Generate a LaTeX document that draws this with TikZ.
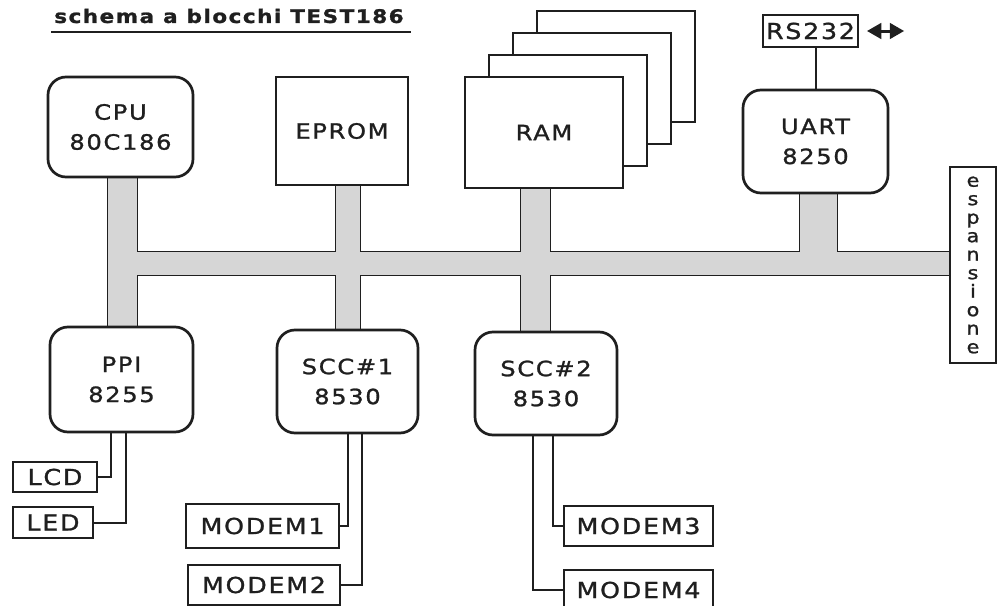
\documentclass[tikz,border=0pt]{standalone}
\usepackage{fontspec}
\usepackage{xcolor}
\usetikzlibrary{shapes,arrows}
\usetikzlibrary{positioning}
\newfontfamily\boxfont[FakeStretch=1.15,LetterSpace=8,FakeBold=1.2]{DejaVu Sans}
\definecolor{ink}{gray}{0.12}
\tikzstyle{chip} = [rectangle, draw=ink, line width=2.7pt, fill=white,
    rounded corners=18pt, align=center, text=ink, inner sep=0pt,
    font=\boxfont\fontsize{21}{30}\selectfont]
\tikzstyle{mem} = [rectangle, draw=ink, line width=2.7pt, fill=white,
    text=ink, inner sep=0pt, font=\boxfont\fontsize{21}{30}\selectfont]
\tikzstyle{port} = [rectangle, draw=ink, line width=2.2pt, fill=white,
    text=ink, inner sep=0pt, font=\boxfont\fontsize{22}{22}\selectfont]
\tikzstyle{wire} = [draw=ink, line width=2pt]
\tikzstyle{bus} = [draw=ink, line width=1pt, fill=black!16]

\begin{document}
\begin{tikzpicture}[x=1pt, y=-1pt]
  \useasboundingbox (0,0) rectangle (998,605);

  % Bus
  \path [bus] (107,170) -- (137,170) -- (137,251) -- (335,251) -- (335,178)
    -- (360,178) -- (360,251) -- (520,251) -- (520,180) -- (550,180)
    -- (550,251) -- (799,251) -- (799,185) -- (837,185) -- (837,251)
    -- (951,251) -- (951,275) -- (550,275) -- (550,340) -- (520,340)
    -- (520,275) -- (360,275) -- (360,338) -- (335,338) -- (335,275)
    -- (137,275) -- (137,335) -- (107,335) -- cycle;

  % Title
  \node [text=ink, inner sep=0pt, font=\boxfont\bfseries\fontsize{18.7}{22}\selectfont]
    (title) at (229,16) {schema a blocchi TEST186};
  \draw [wire] ([shift={(-3pt,-9pt)}]title.south west) -- ([shift={(7pt,-9pt)}]title.south east);

  % Place nodes
  \node [chip, minimum width=145pt, minimum height=100pt] (cpu) at (120.5,127) {CPU\\80C186};
  \node [mem, minimum width=132pt, minimum height=108pt] (eprom) at (342,131) {EPROM};
  \foreach \k in {3,2,1}
    \node [mem, minimum width=158pt, minimum height=111pt] (ram\k) at (544+24*\k,132.5-22*\k) {};
  \node [mem, minimum width=158pt, minimum height=111pt] (ram) at (544,132.5) {RAM};
  \node [chip, minimum width=145pt, minimum height=103pt] (uart) at (815.5,141.5) {UART\\8250};
  \node [port, minimum width=95pt, minimum height=32pt] (rs) at (810.5,31) {RS232};
  \coordinate (ext) at (904,31);
  \node [port, minimum width=46pt, minimum height=196pt, align=center,
    font=\boxfont\fontsize{18}{18.5}\selectfont] (exp) at (973,265) {e\\s\\p\\a\\n\\s\\i\\o\\n\\e};

  \node [chip, minimum width=143pt, minimum height=105pt] (ppi) at (121.5,379.5) {PPI\\8255};
  \node [chip, minimum width=141pt, minimum height=103pt] (scc1) at (347.5,381.5) {SCC\#1\\8530};
  \node [chip, minimum width=142pt, minimum height=103pt] (scc2) at (546,383.5) {SCC\#2\\8530};

  \node [port, minimum width=84pt, minimum height=30pt] (lcd) at (55,477) {LCD};
  \node [port, minimum width=80pt, minimum height=31pt] (led) at (53,522.5) {LED};
  \node [port, minimum width=153pt, minimum height=44pt] (modem1) at (262.5,526) {MODEM1};
  \node [port, minimum width=152pt, minimum height=40pt] (modem2) at (264,585) {MODEM2};
  \node [port, minimum width=149pt, minimum height=40pt] (modem3) at (638.5,526) {MODEM3};
  \node [port, minimum width=149pt, minimum height=40pt] (modem4) at (638.5,590) {MODEM4};

  % Draw edges
  \path [wire] (rs.south -| uart.north) -- (uart.north);
  \path [wire, line width=3pt, triangle 60-triangle 60] ([xshift=8pt]rs.east) -- (ext);
  \path [wire] ([xshift=-11pt]ppi.south) |- (lcd.east);
  \path [wire] ([xshift=4pt]ppi.south) |- (led.east);
  \path [wire] (scc1.south) |- (modem1.east);
  \path [wire] ([xshift=14.5pt]scc1.south) |- (modem2.east);
  \path [wire] ([xshift=7pt]scc2.south) |- (modem3.west);
  \path [wire] ([xshift=-13pt]scc2.south) |- (modem4.west);
\end{tikzpicture}
\end{document}
